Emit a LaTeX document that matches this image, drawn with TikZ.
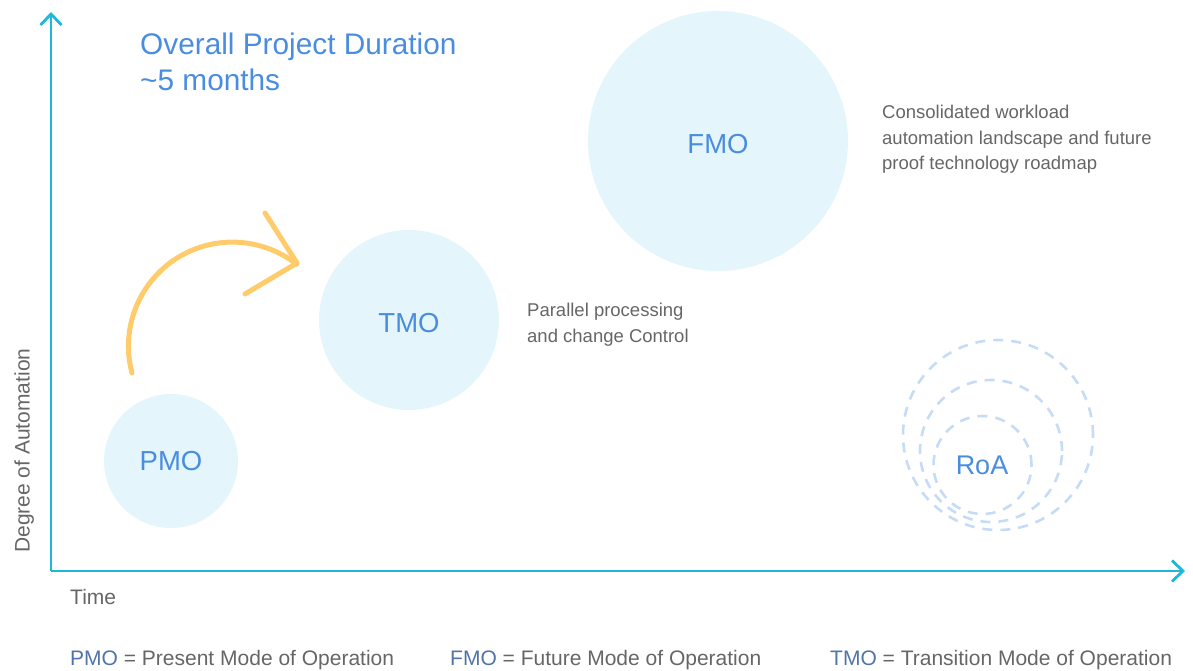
\documentclass[tikz,border=0pt]{standalone}
\usepackage{fontspec}
\setmainfont{Liberation Sans}
\usetikzlibrary{arrows.meta}
\definecolor{axiscol}{HTML}{1DB8D8}
\definecolor{fillcol}{HTML}{E4F6FB}
\definecolor{bluetxt}{HTML}{4A8DE0}
\definecolor{legblue}{HTML}{4F74A8}
\definecolor{graytxt}{HTML}{666666}
\definecolor{dashcol}{HTML}{C6DCF6}
\definecolor{arrowcol}{HTML}{FFCB6B}
\tikzset{
  axis/.style={draw=axiscol, line width=2.8pt, -{Straight Barb[length=11pt,width=21pt,line width=2.8pt]}},
  mode/.style={circle, fill=fillcol, text=bluetxt, inner sep=0pt, font=\fontsize{27.5}{30}\selectfont},
  ring/.style={circle, draw=dashcol, line width=2.6pt, dash pattern=on 10pt off 8pt, inner sep=0pt},
  side/.style={text=graytxt, inner sep=0pt, align=left, font=\fontsize{18.5}{25.5}\selectfont},
  big/.style={text=graytxt, inner sep=0pt, font=\fontsize{21}{25}\selectfont},
  curl/.style={draw=arrowcol, line width=5pt, line cap=round, line join=round},
}
\begin{document}
\begin{tikzpicture}[x=1pt,y=1pt]
\useasboundingbox (0,0) rectangle (1193,670);
% axes
\coordinate (origin) at (51,99);
\coordinate (ytop) at (51,658);
\coordinate (xend) at (1185,99);
\draw[axis] (origin) -- (ytop);
\draw[axis] (origin) -- (xend);
% title
\node[anchor=base west, inner sep=0pt, text=bluetxt, font=\fontsize{29.8}{36}\selectfont] (title1) at (140,615) {Overall Project Duration};
\node[anchor=base west, inner sep=0pt, text=bluetxt, font=\fontsize{29.8}{36}\selectfont] (title2) at (140,579) {\textasciitilde5 months};
% modes
\node[mode, minimum size=134pt] (pmo) at (171,209) {PMO};
\node[mode, minimum size=180pt] (tmo) at (409,350) {};
\node[text=bluetxt, font=\fontsize{27.5}{30}\selectfont, inner sep=0pt] (tmol) at (409,347) {TMO};
\node[mode, minimum size=260pt] (fmo) at (718,529) {};
\node[text=bluetxt, font=\fontsize{27.5}{30}\selectfont, inner sep=0pt] (fmol) at (718,526) {FMO};
% RoA rings
\node[ring, minimum size=190pt] (r3) at (998,235) {};
\node[ring, minimum size=142pt] (r2) at (991,219) {};
\node[ring, minimum size=98pt] (r1) at (982.5,205) {};
\node[text=bluetxt, font=\fontsize{27}{30}\selectfont, inner sep=0pt] (roa) at (982,205) {RoA};
% side texts
\node[side, anchor=north west] (fmotxt) at (882,565) {Consolidated workload\\automation landscape and future\\proof technology roadmap};
\node[side, anchor=north west] (tmotxt) at (527,367) {Parallel processing\\and change Control};
% axis labels
\node[big, anchor=base west, rotate=90] (ylab) at (29.5,117) {Degree of Automation};
\node[big, anchor=base west] (xlab) at (70,66) {Time};
% legend
\node[big, anchor=base west] (leg1) at (70,5) {\textcolor{legblue}{PMO} = Present Mode of Operation};
\node[big, anchor=base west] (leg2) at (450,5) {\textcolor{legblue}{FMO} = Future Mode of Operation};
\node[big, anchor=base west] (leg3) at (830,5) {\textcolor{legblue}{TMO} = Transition Mode of Operation};
% curved arrow
\coordinate (cstart) at (132,297);
\coordinate (tip) at (297,407);
\coordinate (armA) at (265,457);
\coordinate (armB) at (245,376);
\draw[curl] (cstart) arc[start angle=195, end angle=52, radius=104];
\draw[curl] (armA) -- (tip) -- (armB);
\end{tikzpicture}
\end{document}
